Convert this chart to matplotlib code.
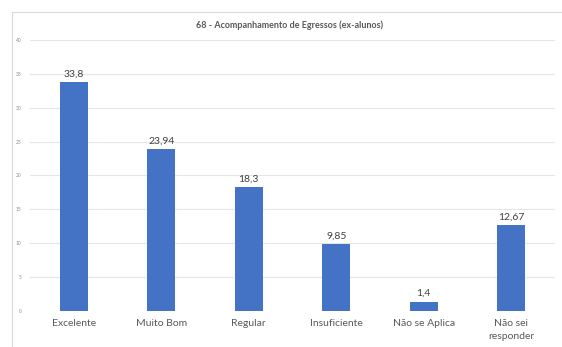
import matplotlib.pyplot as plt
from matplotlib.patches import Rectangle

categories = ["Excelente", "Muito Bom", "Regular", "Insuficiente", "Não se Aplica", "Não sei\nresponder"]
values = [33.8, 23.94, 18.3, 9.85, 1.4, 12.67]
value_labels = ["33,8", "23,94", "18,3", "9,85", "1,4", "12,67"]
yticks = [0, 5, 10, 15, 20, 25, 30, 35, 40]

plt.rcParams["font.family"] = ["Lato", "DejaVu Sans"]

fig = plt.figure(figsize=(5.62, 3.47), dpi=100)
fig.patches.append(Rectangle((12 / 562, -0.02), 1.0, 1 - 12 / 347 + 0.02,
                             transform=fig.transFigure, facecolor="none",
                             edgecolor="#d9d9d9", linewidth=0.8))

ax = fig.add_axes([30 / 562, 1 - 311 / 347, 525 / 562, 271 / 347])
ax.set_facecolor("none")
x = range(len(categories))
ax.bar(x, values, width=0.32, color="#4472C4", zorder=3)
for xi, v, lab in zip(x, values, value_labels):
    ax.text(xi, v + 0.5, lab, ha="center", va="bottom", fontsize=7.5, color="#404040")

ax.set_ylim(0, 40)
ax.set_xlim(-0.5, len(categories) - 0.5)
ax.set_yticks(yticks)
ax.set_yticklabels([str(t) for t in yticks], fontsize=3.5, color="#8c8c8c")
ax.set_xticks(list(x))
ax.set_xticklabels(categories, fontsize=7.5, color="#595959", linespacing=1.5)
ax.tick_params(axis="both", length=0)
ax.tick_params(axis="x", pad=6)
ax.tick_params(axis="y", pad=6)
ax.grid(axis="y", color="#e6e6e6", linewidth=0.8, zorder=0)
for s in ax.spines.values():
    s.set_visible(False)

fig.text(0.5 + 9 / 562, 1 - 25 / 347, "68 - Acompanhamento de Egressos (ex-alunos)",
         ha="center", va="center", fontsize=6.5, fontweight="bold", color="#595959")

fig.savefig("out.png", dpi=100)
